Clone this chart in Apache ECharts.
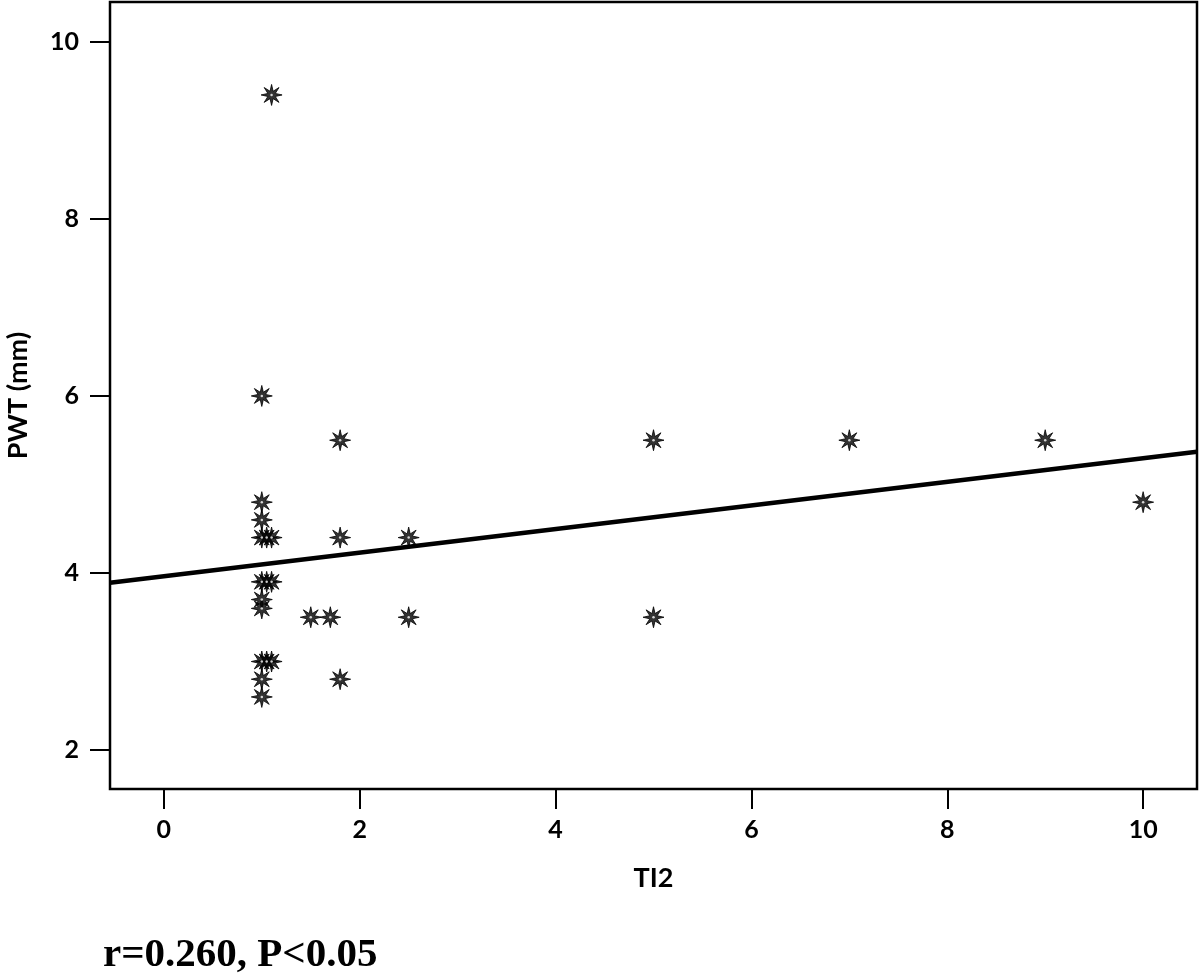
<!DOCTYPE html>
<html>
<head>
<meta charset="utf-8">
<title>PWT vs TI2</title>
<script src="https://cdn.jsdelivr.net/npm/echarts@6/dist/echarts.min.js"></script>
<style>
  html, body { margin: 0; padding: 0; background: #fff; }
  #main { width: 1200px; height: 977px; }
</style>
</head>
<body>
<div id="main"></div>
<script>
// TI2 / PWT (mm) pairs
var tiValues = [1.1, 1, 1.8, 5, 7, 9, 10, 1, 1, 1, 1.05, 1.1, 1.8, 2.5,
                1, 1.05, 1.1, 1, 1, 1.5, 1.7, 2.5, 5, 1, 1.05, 1.1, 1, 1.8, 1];
var pwtValues = [9.4, 6, 5.5, 5.5, 5.5, 5.5, 4.8, 4.8, 4.6, 4.4, 4.4, 4.4, 4.4, 4.4,
                 3.9, 3.9, 3.9, 3.7, 3.6, 3.5, 3.5, 3.5, 3.5, 3, 3, 3, 2.8, 2.8, 2.6];

// fitted line, ends at the plot edges
var fitX = [-0.55, 10.55];
var fitY = [3.89, 5.37];

var xTicks = [0, 2, 4, 6, 8, 10];
var yTicks = [2, 4, 6, 8, 10];

var note = 'r=0.260, P<0.05';

// 8-point asterisk used as marker
function starPath(n, rIn) {
  var d = '';
  for (var i = 0; i < n * 2; i++) {
    var r = i % 2 === 0 ? 1 : rIn;
    var a = Math.PI * i / n - Math.PI / 2;
    d += (i === 0 ? 'M' : 'L') + (r * Math.cos(a)).toFixed(3) + ' ' + (r * Math.sin(a)).toFixed(3) + ' ';
  }
  return 'path://' + d + 'Z';
}

var points = tiValues.map(function (x, i) { return [x, pwtValues[i]]; });
var fitLine = fitX.map(function (x, i) { return [x, fitY[i]]; });

var chart = echarts.init(document.getElementById('main'));

var tickFont = { color: '#000', fontFamily: 'Lato', fontWeight: 'bold', fontSize: 25 };

chart.setOption({
  animation: false,
  grid: {
    left: 110, top: 2, right: 3, bottom: 188,
    containLabel: false,
    outerBoundsMode: 'none',
    show: true, borderColor: '#000', borderWidth: 2.5
  },
  xAxis: {
    type: 'value',
    min: -0.55, max: 10.55,
    name: 'TI2',
    nameLocation: 'middle',
    nameGap: 76,
    nameTextStyle: { color: '#000', fontFamily: 'Lato', fontWeight: 'bold', fontSize: 27 },
    axisLine: { show: true, onZero: false, lineStyle: { color: '#000', width: 2 } },
    axisTick: { show: true, length: 20, customValues: xTicks, lineStyle: { color: '#000', width: 2 } },
    axisLabel: Object.assign({ margin: 28, customValues: xTicks }, tickFont),
    splitLine: { show: false }
  },
  yAxis: {
    type: 'value',
    min: 1.56, max: 10.45,
    name: 'PWT (mm)',
    nameLocation: 'middle',
    nameGap: 78,
    nameTextStyle: { color: '#000', fontFamily: 'Lato', fontWeight: 'bold', fontSize: 27 },
    axisLine: { show: true, onZero: false, lineStyle: { color: '#000', width: 2 } },
    axisTick: { show: true, length: 20, customValues: yTicks, lineStyle: { color: '#000', width: 2 } },
    axisLabel: Object.assign({ margin: 31, customValues: yTicks }, tickFont),
    splitLine: { show: false }
  },
  series: [
    {
      type: 'line',
      data: fitLine,
      symbol: 'none',
      lineStyle: { color: '#000', width: 4.5 },
      z: 2
    },
    {
      type: 'scatter',
      data: points,
      symbol: starPath(8, 0.38),
      symbolSize: 21,
      itemStyle: { color: '#000', borderColor: '#000', borderWidth: 1 },
      z: 3
    },
    {
      type: 'scatter',
      data: points,
      symbol: 'circle',
      symbolSize: 2.5,
      itemStyle: { color: '#fff' },
      z: 4
    }
  ],
  graphic: [
    {
      type: 'text',
      left: 103,
      top: 935,
      style: {
        text: note,
        font: 'bold 41px "Liberation Serif", "Times New Roman", serif',
        fill: '#000'
      }
    }
  ]
});
</script>
</body>
</html>
